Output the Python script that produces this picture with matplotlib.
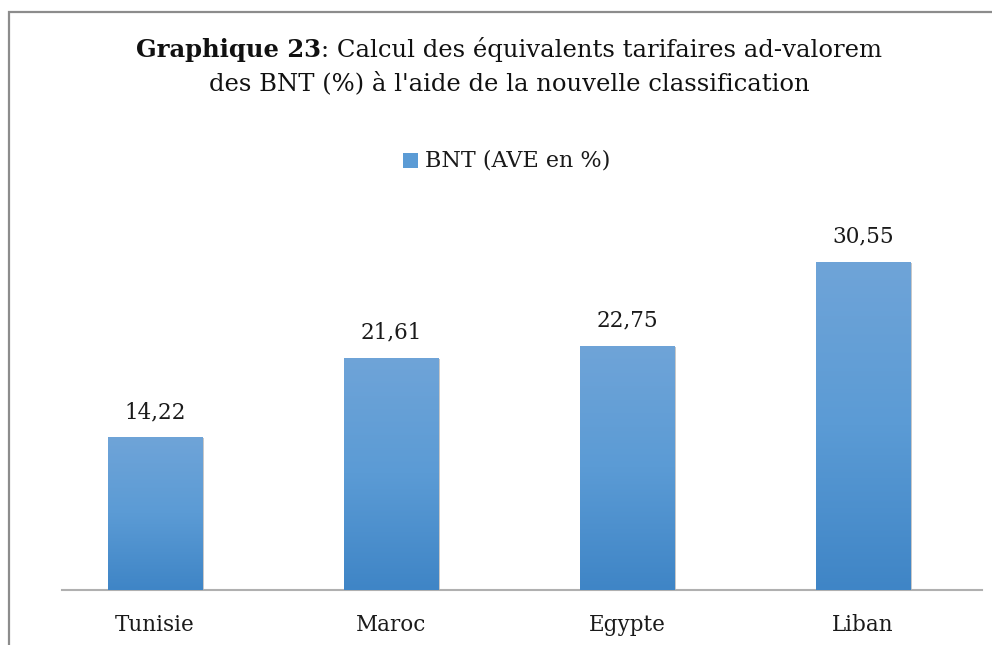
import numpy as np
import matplotlib
matplotlib.use("Agg")
import matplotlib.pyplot as plt
from matplotlib.patches import Rectangle
from matplotlib.colors import LinearSegmentedColormap

# donnees
pays = ["Tunisie", "Maroc", "Egypte", "Liban"]
ave = [14.22, 21.61, 22.75, 30.55]
etiquettes = ["14,22", "21,61", "22,75", "30,55"]
serie = "BNT (AVE en %)"

W, H = 992, 645
fig = plt.figure(figsize=(W / 100, H / 100), dpi=100)
serif = ["DejaVu Serif"]

# cadre gris (bord gauche et haut visibles)
fig.patches.append(Rectangle((9 / W, -0.1), 1.2, (H - 12) / H + 0.1, transform=fig.transFigure,
                             fill=False, edgecolor="#8c8c8c", linewidth=1.6))

# axe : x de 62 a 982 px, y de 200 a 590 px
ax = fig.add_axes([62 / W, (H - 590) / H, (982 - 62) / W, (590 - 200) / H])
x = np.arange(len(pays))
bars = ax.bar(x, ave, width=0.40, color="#5b9bd5", zorder=2)
ax.set_xlim(-0.394, 3.504)
ax.set_ylim(0, 36.3)

# degrade sur les barres
cmap = LinearSegmentedColormap.from_list("bleu", ["#3f85c6", "#5b9bd5", "#6fa4d8"])
grad = np.linspace(0, 1, 256).reshape(-1, 1)
for b in bars:
    x0, w, h = b.get_x(), b.get_width(), b.get_height()
    # petite ombre
    ax.add_patch(Rectangle((x0 + 0.008, 0), w, h - 0.1, color="#c8c8c8", zorder=1, lw=0))
    im = ax.imshow(grad, cmap=cmap, origin="lower", aspect="auto",
                   extent=[x0, x0 + w, 0, h], zorder=3)
    im.set_clip_path(b)

for xi, v, lab in zip(x, ave, etiquettes):
    ax.text(xi, v + 1.3, lab, ha="center", va="bottom", fontsize=15.5,
            family=serif, color="#1a1a1a")

for s in ["top", "right", "left"]:
    ax.spines[s].set_visible(False)
ax.spines["bottom"].set_color("#b0b0b0")
ax.spines["bottom"].set_linewidth(1.5)
ax.set_yticks([])
ax.set_xticks(x)
ax.set_xticklabels(pays, fontsize=15.5, family=serif, color="#1a1a1a")
ax.tick_params(axis="x", length=0, pad=17)

# legende
fig.patches.append(Rectangle((403 / W, (H - 168) / H), 15 / W, 15 / H, transform=fig.transFigure,
                             facecolor="#5b9bd5", edgecolor="none"))
fig.text(425 / W, (H - 161) / H, serie, ha="left", va="center", fontsize=16,
         family=serif, color="#1a1a1a")

# titre avec partie en gras
fig.canvas.draw()
r = fig.canvas.get_renderer()
t1 = fig.text(0, (H - 50) / H, "Graphique 23", fontsize=17.5, family=serif,
              weight="bold", va="center", color="#111111")
t2 = fig.text(0, (H - 50) / H, ": Calcul des équivalents tarifaires ad-valorem",
              fontsize=17.5, family=serif, va="center", color="#111111")
w1 = t1.get_window_extent(r).width
w2 = t2.get_window_extent(r).width
x_start = 509 - (w1 + w2) / 2
t1.set_x(x_start / W)
t2.set_x((x_start + w1) / W)
fig.text(509 / W, (H - 83) / H, "des BNT (%) à l'aide de la nouvelle classification",
         fontsize=17.5, family=serif, ha="center", va="center", color="#111111")

fig.savefig("out.png", dpi=100)
